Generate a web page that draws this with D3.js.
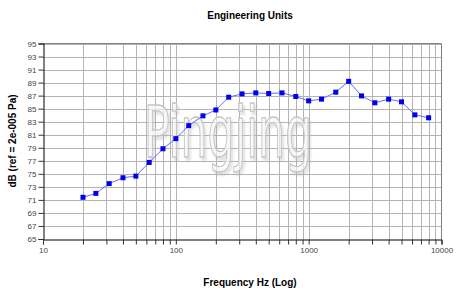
<!DOCTYPE html>
<html><head><meta charset="utf-8">
<script src="https://cdn.jsdelivr.net/npm/d3@7"></script>
<style>body{margin:0;background:#fff;}svg{display:block;font-family:Arial,"Liberation Sans",sans-serif;}</style>
</head><body>
<svg id="c" width="466" height="294"></svg>
<script>
const freqs = [20,25,31.5,40,50,63,80,100,125,160,200,250,315,400,500,630,800,1000,1250,1600,2000,2500,3150,4000,5000,6300,8000];
const levels = [71.4,72.0,73.5,74.4,74.65,76.75,78.85,80.4,82.4,83.9,84.8,86.76,87.27,87.42,87.33,87.42,86.87,86.2,86.46,87.53,89.2,86.96,85.9,86.46,86.05,84.05,83.6];
const yTicks = [65,67,69,71,73,75,77,79,81,83,85,87,89,91,93,95];
const xLabels = [10,100,1000,10000];
const title = "Engineering Units";
const xTitle = "Frequency Hz (Log)";
const yTitle = "dB (ref = 2e-005 Pa)";

const svg = d3.select("#c");
const L=43, R=441.5, T=43.5, B=239;
const x = d3.scaleLog().domain([10,10000]).range([L,R]);
const y = d3.scaleLinear().domain([65,95]).range([B,T]);

const defs = svg.append("defs");
defs.append("filter").attr("id","sh").attr("x","-10%").attr("y","-10%").attr("width","130%").attr("height","130%")
  .append("feDropShadow").attr("dx",2).attr("dy",3).attr("stdDeviation",1.2)
  .attr("flood-color","#b0b0b0").attr("flood-opacity",0.5);

const minor = [];
for (let d=10; d<10000; d*=10) for (let k=2;k<=10;k++) minor.push(d*k);
const gx = svg.append("g");
minor.forEach(v=>{
  if (v>=10000) return;
  gx.append("line").attr("x1",Math.round(x(v))+0.5).attr("x2",Math.round(x(v))+0.5)
    .attr("y1",T).attr("y2",B).attr("stroke","#b4b4b4").attr("stroke-width",1);
});
yTicks.forEach(v=>{
  if (v===65) return;
  gx.append("line").attr("x1",L).attr("x2",R).attr("y1",Math.round(y(v))+0.5).attr("y2",Math.round(y(v))+0.5)
    .attr("stroke","#b4b4b4").attr("stroke-width",1);
});

// watermark
svg.append("text").attr("x",228).attr("y",157).attr("text-anchor","middle")
  .attr("font-family","DejaVu Sans Condensed, DejaVu Sans, sans-serif").attr("font-size",72)
  .attr("fill","#ffffff").attr("fill-opacity",0.6).attr("stroke","#c4c4c4").attr("stroke-width",1.3)
  .attr("textLength",168).attr("lengthAdjust","spacingAndGlyphs").attr("filter","url(#sh)")
  .text("Pingjing");

svg.append("line").attr("x1",L).attr("x2",R).attr("y1",T).attr("y2",T).attr("stroke","#808080");
svg.append("line").attr("x1",R).attr("x2",R).attr("y1",T).attr("y2",B).attr("stroke","#808080");

const yAxis = d3.axisLeft(y).tickValues(yTicks).tickSize(5).tickPadding(2).tickFormat(d3.format("d"));
const ya = svg.append("g").attr("transform",`translate(${L+0.5},0)`).call(yAxis);
ya.selectAll("text").attr("font-size",8).attr("fill","#444").attr("font-family","Arial, Liberation Sans, sans-serif");
ya.select(".domain").attr("stroke","#000");
ya.selectAll(".tick line").attr("stroke","#333");

const xTickVals = [10].concat(minor.filter(v=>v<=10000));
const xAxis = d3.axisBottom(x).tickValues(xTickVals).tickSize(5).tickPadding(3)
  .tickFormat(d=> xLabels.includes(d) ? String(d) : "");
const xa = svg.append("g").attr("transform",`translate(0,${B+0.5})`).call(xAxis);
xa.selectAll("text").attr("font-size",8).attr("fill","#444").attr("font-family","Arial, Liberation Sans, sans-serif");
xa.select(".domain").attr("stroke","#000");
xa.selectAll(".tick line").attr("stroke","#333");

svg.append("path").datum(freqs.map((f,i)=>[f,levels[i]]))
  .attr("fill","none").attr("stroke","#6a6aff").attr("stroke-width",1)
  .attr("d", d3.line().x(d=>x(d[0])).y(d=>y(d[1])));
svg.selectAll("rect.m").data(freqs).join("rect").attr("class","m")
  .attr("x",(d)=>x(d)-2.5).attr("y",(d,i)=>y(levels[i])-2.5).attr("width",5).attr("height",5)
  .attr("fill","#0000ee");

svg.append("text").attr("x",250).attr("y",19).attr("text-anchor","middle")
  .attr("font-size",10).attr("font-weight","bold").text(title);
svg.append("text").attr("x",250).attr("y",286).attr("text-anchor","middle")
  .attr("font-size",10).attr("font-weight","bold").text(xTitle);
svg.append("text").attr("transform","translate(16,141) rotate(-90)").attr("text-anchor","middle")
  .attr("font-size",10).attr("font-weight","bold").text(yTitle);
</script>
</body></html>
